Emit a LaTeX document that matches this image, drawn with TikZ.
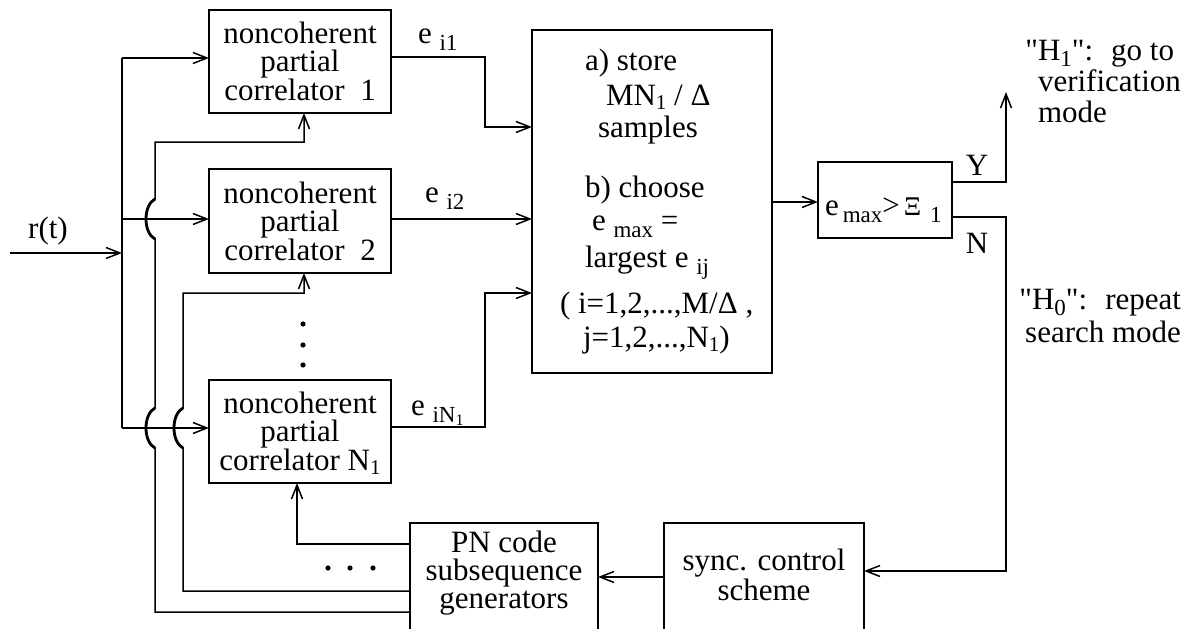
\documentclass[tikz,border=0pt]{standalone}
\usepackage{fontspec}
\setmainfont{Liberation Serif}[Ligatures=TeXOff]
\usetikzlibrary{arrows.meta}
\newcommand\sbx[1]{\raisebox{-7pt}[0pt][0pt]{\fontsize{23}{23}\selectfont #1}}
\newcommand\sby[1]{\raisebox{-4pt}[0pt][0pt]{\fontsize{21}{21}\selectfont #1}}
\newcommand\lowsub[1]{\raisebox{-6pt}[0pt][0pt]{\fontsize{23}{23}\selectfont #1}}
\tikzset{
  every node/.style={font=\fontsize{31}{28}\selectfont, inner sep=0pt, outer sep=0pt},
  blk/.style={draw, line width=1.5pt, align=center},
  txt/.style={anchor=base west},
  wire/.style={line width=1.5pt},
  arr/.style={wire, -{Straight Barb[length=14pt,width=11pt]}},
  jump/.style={line width=2.8pt},
}
\begin{document}
\begin{tikzpicture}[x=1pt,y=-1pt]
\useasboundingbox (0,0) rectangle (1184,629);
\clip (0,0) rectangle (1184,629);
\fill[white] (0,0) rectangle (1184,629);

% correlator boxes
\node[blk, minimum width=182pt, minimum height=103pt] (box1) at (300,61.5) {noncoherent\\partial\\correlator\ \ 1};
\node[blk, minimum width=182pt, minimum height=104pt] (box2) at (300,221) {noncoherent\\partial\\correlator\ \ 2};
\node[blk, minimum width=182pt, minimum height=103pt] (box3) at (300,431.5) {noncoherent\\partial\\correlator N\sby{1}};

% vertical dots
\fill (303,324) circle (2.6pt);
\fill (303,345) circle (2.6pt);
\fill (303,365) circle (2.6pt);

% big store/choose box
\node[blk, minimum width=240pt, minimum height=343pt] (big) at (652,201.5) {};
\node[txt] (t1) at (585,70) {a) store};
\node[txt] (t2) at (606,105) {MN\sby{1} / Δ};
\node[txt] (t3) at (598,137) {samples};
\node[txt] (t4) at (585,197) {b) choose};
\node[txt] (t5) at (592,230) {e \sbx{max} =};
\node[txt] (t6) at (585,267) {largest e \sbx{ij}};
\node[txt] (t7) at (560,313) {( i=1,2,...,M/Δ ,};
\node[txt] (t8) at (583,347) {j=1,2,...,N\sby{1})};

% threshold box
\node[blk, minimum width=134pt, minimum height=76pt] (thr) at (885,200) {};
\node[txt] (thrt) at (825,215) {e\hspace{4pt}\sbx{max}>\hspace{4pt}{\fontsize{27}{27}\selectfont Ξ}\hspace{9pt}\sbx{1}};

% PN and sync boxes
\node[blk, minimum width=188pt, minimum height=126pt] (pn) at (504,586) {};
\node[anchor=north, align=center] (pnt) at (504,531) {PN code\\subsequence\\generators};
\node[blk, minimum width=200pt, minimum height=126pt] (sync) at (764,586) {};
\node[anchor=north, align=center, font=\fontsize{31}{30}\selectfont] (synct) at (764,549) {sync. control\\scheme};

% labels
\node[anchor=base] (rt) at (48,238) {r(t)};
\node[txt] (e1) at (418,43) {e \sbx{i1}};
\node[txt] (e2) at (425,202) {e \sbx{i2}};
\node[txt] (e3) at (411,415) {e \sbx{iN\raisebox{-3pt}{\fontsize{16}{16}\selectfont 1}}};
\node[anchor=base] (ylab) at (977,175) {Y};
\node[anchor=base] (nlab) at (977,253) {N};
\node[anchor=north west, align=left, font=\fontsize{31}{31}\selectfont] (h1) at (1038,40) {\llap{"}H\lowsub{1}": \ go to\\verification\\mode};
\node[anchor=north east, align=right, font=\fontsize{31}{33}\selectfont] (h0) at (1181,289) {"H\lowsub{0}": \ repeat\\search mode};

% coordinates
\coordinate (in) at (10,253);
\coordinate (busin) at (122,253);
\coordinate (bus1) at (122,58);
\coordinate (bus2) at (122,219);
\coordinate (bus3) at (122,428);
\coordinate (yend) at (1006,92);

% input bus
\draw[arr] (in) -- (busin);
\draw[wire] (bus1) -- (bus3);
\draw[arr] (bus1) -- (bus1 -| box1.west);
\draw[arr] (bus2) -- (bus2 -| box2.west);
\draw[arr] (bus3) -- (bus3 -| box3.west);

% correlator outputs
\draw[arr] (box1.east |- 0,57) -- (485,57) -- (485,127) -- (big.west |- 0,127);
\draw[arr] (box2.east |- 0,219) -- (big.west |- 0,219);
\draw[arr] (box3.east |- 0,427) -- (485,427) -- (485,293) -- (big.west |- 0,293);

% decision
\draw[arr] (big.east |- 0,202) -- (thr.west |- 0,202);
\draw[arr] (thr.east |- 0,182) -- (1006,182) -- (yend);
\draw[arr] (thr.east |- 0,217) -- (1006,217) -- (1006,571) -- (sync.east |- 0,571);
\draw[arr] (sync.west |- 0,577) -- (pn.east |- 0,577);

% PN code feeds
\draw[arr] (pn.west |- 0,544) -- (297,544) -- (box3.south -| 297,0);
\draw[arr] (pn.west |- 0,591) -- (183,591) -- (183,448)
   .. controls (171,442) and (171,414) .. (183,408) -- (183,293) -- (304,293) -- (box2.south -| 304,0);
\draw[arr] (pn.west |- 0,612) -- (155,612) -- (155,448)
   .. controls (143,442) and (143,414) .. (155,408) -- (155,239)
   .. controls (143,233) and (143,205) .. (155,199) -- (155,142) -- (304,142) -- (box1.south -| 304,0);
\draw[jump] (183,448) .. controls (171,442) and (171,414) .. (183,408);
\draw[jump] (155,448) .. controls (143,442) and (143,414) .. (155,408);
\draw[jump] (155,239) .. controls (143,233) and (143,205) .. (155,199);

% horizontal dots
\fill (328,568) circle (2.6pt);
\fill (350,568) circle (2.6pt);
\fill (373,568) circle (2.6pt);
\end{tikzpicture}
\end{document}
